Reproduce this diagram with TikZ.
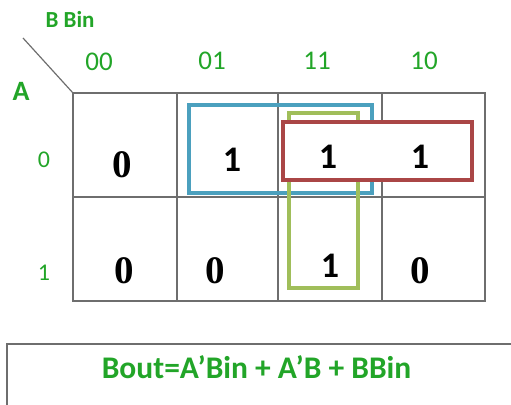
\documentclass[tikz,border=0pt]{standalone}
\usepackage{fontspec}
\setmainfont{Carlito}
\newfontfamily\zerofont{Liberation Serif}
\definecolor{kgreen}{RGB}{34,165,40}
\definecolor{kgrid}{RGB}{110,110,110}
\definecolor{kblue}{RGB}{75,160,190}
\definecolor{kred}{RGB}{170,70,70}
\definecolor{kolive}{RGB}{160,190,90}
\tikzset{
  lbl/.style={text=kgreen,font=\fontsize{23}{23}\selectfont\bfseries,inner sep=0pt},
  hdr/.style={text=kgreen,font=\fontsize{27}{27}\selectfont,inner sep=0pt},
  rowlbl/.style={text=kgreen,font=\fontsize{24}{24}\selectfont,inner sep=0pt},
  zero/.style={font=\fontsize{39}{39}\selectfont\zerofont\bfseries,inner sep=0pt},
  one/.style={font=\fontsize{36}{36}\selectfont\bfseries,inner sep=0pt},
  gridline/.style={draw=kgrid,line width=1.6pt},
  grp/.style={line width=3.2pt},
}
\begin{document}
\begin{tikzpicture}[x=1pt,y=-1pt]
\useasboundingbox (0,0) rectangle (511,404);
\clip (0,0) rectangle (511,404);
% grid
\draw[gridline] (73,93) rectangle (485,301);
\draw[gridline] (73,197) -- (485,197);
\foreach \x in {177,278,382} \draw[gridline] (\x,93) -- (\x,301);
\coordinate (dstart) at (23,38);
\coordinate (gridtl) at (73,93);
\draw[draw=kgrid,line width=1.2pt] (dstart) -- (gridtl);
% labels
\node[lbl] (bbin) at (70,19.5) {B Bin};
\node[lbl,font=\fontsize{28}{28}\selectfont\bfseries] (avar) at (21,91) {A};
\node[hdr] (h00) at (99,62) {00};
\node[hdr] (h01) at (212,61) {01};
\node[hdr] (h11) at (317,61) {11};
\node[hdr] (h10) at (424,61) {10};
\node[rowlbl] (r0) at (44,160) {0};
\node[rowlbl] (r1) at (44,273) {1};
% groups
\node[grp,draw=kblue,minimum width=183pt,minimum height=88pt] (gblue) at (280.5,149) {};
\node[grp,draw=kolive,minimum width=69pt,minimum height=175pt] (golive) at (323.5,200.5) {};
\node[grp,draw=kred,fill=white,minimum width=189pt,minimum height=58pt] (gred) at (377.5,151) {};
% values
\node[zero] (c00) at (122,165) {0};
\node[one] (c01) at (232,160) {1};
\node[one] (c11) at (328,157) {1};
\node[one] (c10) at (420,157) {1};
\node[zero] (d00) at (124,271) {0};
\node[zero] (d01) at (215,271) {0};
\node[one] (d11) at (330,266) {1};
\node[zero] (d10) at (420,271) {0};
% formula
\node[draw=kgrid,line width=1.5pt,minimum width=530pt,minimum height=80pt,anchor=north west] (fbox) at (6,343) {};
\node[text=kgreen,font=\fontsize{31.5}{31.5}\selectfont\bfseries,inner sep=0pt] (formula) at (256.5,367) {Bout=A’Bin + A’B + BBin};
\end{tikzpicture}
\end{document}
